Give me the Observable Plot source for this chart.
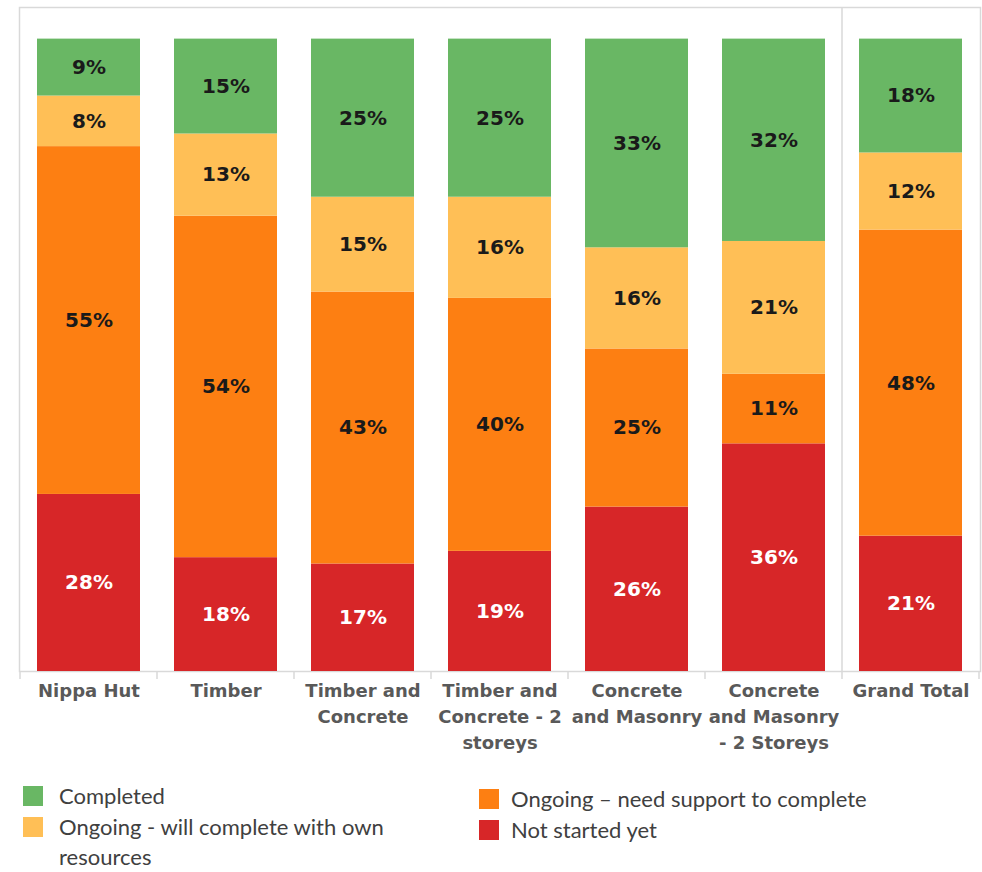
<!DOCTYPE html>
<html>
<head>
<meta charset="utf-8">
<script src="https://cdn.jsdelivr.net/npm/d3@7"></script>
<script src="https://cdn.jsdelivr.net/npm/@observablehq/plot@0.6"></script>
<style>
  html, body { margin: 0; padding: 0; background: #fff; }
  #chart { position: absolute; left: 0; top: 0; }
  #legend { position: absolute; left: 0; top: 781px; width: 982px; font-family: Lato, "Open Sans", sans-serif; font-size: 22px; color: #404040; line-height: 30.5px; }
  .col { position: absolute; top: 0; }
  .item { display: flex; align-items: flex-start; }
  .sw { width: 20px; height: 20px; flex: none; margin-top: 5px; }
</style>
</head>
<body>
<div id="chart"></div>
<div id="legend"></div>
<script>
const categories = ["Nippa Hut", "Timber", "Timber and Concrete", "Timber and Concrete - 2 storeys", "Concrete and Masonry", "Concrete and Masonry - 2 Storeys", "Grand Total"];
const tickLabels = ["Nippa Hut", "Timber", "Timber and\nConcrete", "Timber and\nConcrete - 2\nstoreys", "Concrete\nand Masonry", "Concrete\nand Masonry\n- 2 Storeys", "Grand Total"];
const statuses = ["Not started yet", "Ongoing \u2013 need support to complete", "Ongoing - will complete with own resources", "Completed"];
const notStarted   = [28, 18, 17, 19, 26, 36, 21.4];
const needSupport  = [55, 54, 43, 40, 25, 11, 48.4];
const ownResources = [8, 13, 15, 16, 16, 21, 12.2];
const completed    = [9, 15, 25, 25, 33, 32, 18];
const colors = ["#d72628", "#fd7f12", "#ffbf56", "#69b764"];
const legendOrder = [[3, 2], [1, 0]];

const series = [notStarted, needSupport, ownResources, completed];
const rows = [];
categories.forEach((c, i) => {
  statuses.forEach((s, j) => rows.push({category: c, status: s, value: series[j][i]}));
});

const labelFont = "DejaVu Sans, Verdana, sans-serif";
const plot = Plot.plot({
  width: 982,
  height: 760,
  marginTop: 7,
  marginBottom: 89,
  marginLeft: 19,
  marginRight: 2,
  style: {fontFamily: labelFont, background: "white"},
  x: {domain: categories, paddingInner: 0.25, paddingOuter: 0.125, label: null},
  y: {domain: [0, 105], axis: null},
  color: {domain: statuses, range: colors},
  marks: [
    Plot.frame({stroke: "#d9d9d9", strokeWidth: 1.5}),
    Plot.barY(rows, {x: "category", y: "value", fill: "status", z: "status"}),
    Plot.text(rows, Plot.stackY({x: "category", y: "value", z: "status",
      text: d => d.status === statuses[0] ? Math.round(d.value) + "%" : "",
      fill: "white", fontSize: 20, fontWeight: "bold"})),
    Plot.text(rows, Plot.stackY({x: "category", y: "value", z: "status",
      text: d => d.status !== statuses[0] ? Math.round(d.value) + "%" : "",
      fill: "#1a1a1a", fontSize: 20, fontWeight: "bold"})),
    Plot.axisX({tickSize: 0, tickPadding: 7, fontSize: 18, fontWeight: "bold", fill: "#595959",
      lineHeight: 1.45, tickFormat: d => tickLabels[categories.indexOf(d)]})
  ]
});

// section boundaries, separator before Grand Total, and short ticks below the axis
const xs = plot.scale("x");
const ys = plot.scale("y");
const half = (xs.step - xs.bandwidth) / 2;
const bounds = categories.map(c => xs.apply(c) - half);
bounds.push(xs.apply(categories[categories.length - 1]) + xs.bandwidth + half);
const y0 = ys.apply(0), yTop = ys.apply(105);
const g = d3.select(plot).append("g").attr("stroke", "#d9d9d9").attr("stroke-width", 1.5);
bounds.forEach(b => {
  g.append("line").attr("x1", b).attr("x2", b).attr("y1", y0).attr("y2", y0 + 8);
});
const sep = bounds[categories.length - 1];
g.append("line").attr("x1", sep).attr("x2", sep).attr("y1", yTop).attr("y2", y0);

document.getElementById("chart").appendChild(plot);

// legend
const legend = d3.select("#legend");
const colLeft = [23, 479];
const colWidth = [375, 480];
const colTop = [0, 3];
const swGap = [16, 12];
legendOrder.forEach((col, ci) => {
  const div = legend.append("div").attr("class", "col")
    .style("left", colLeft[ci] + "px").style("top", colTop[ci] + "px").style("width", colWidth[ci] + "px");
  col.forEach(k => {
    const it = div.append("div").attr("class", "item");
    it.append("div").attr("class", "sw").style("background", colors[k]).style("margin-right", swGap[ci] + "px");
    it.append("div").text(statuses[k]);
  });
});
</script>
</body>
</html>
